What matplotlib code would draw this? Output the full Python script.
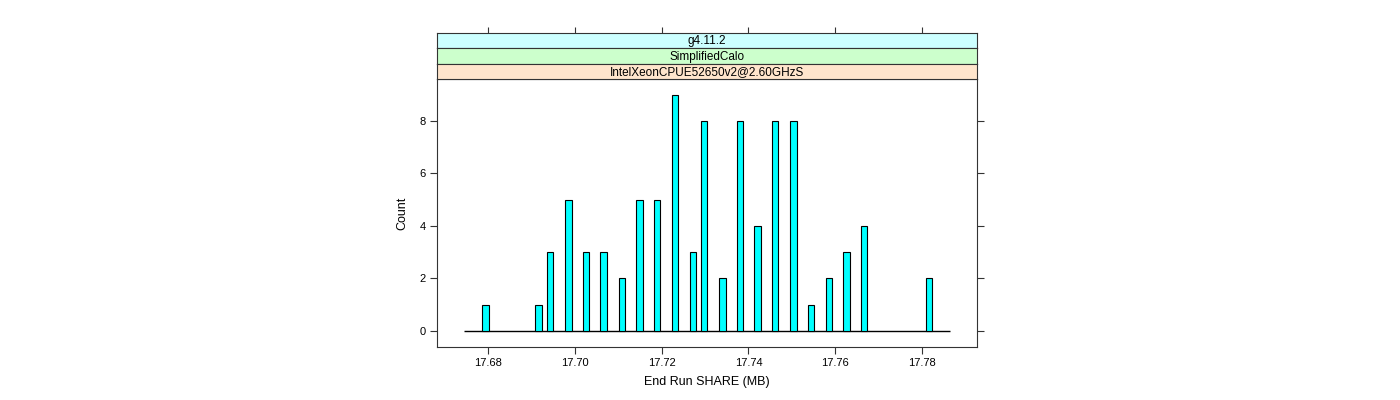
import numpy as np
import matplotlib
matplotlib.use("Agg")
import matplotlib.pyplot as plt

plt.rcParams['font.family'] = ['Liberation Sans', 'DejaVu Sans']

# Bin centres (MB) and counts
binCentres = [17.6794, 17.6916, 17.6943, 17.6985, 17.7026, 17.7066, 17.7108,
              17.7149, 17.7190, 17.7231, 17.7272, 17.7298, 17.7340, 17.7380,
              17.7421, 17.7462, 17.7504, 17.7544, 17.7585, 17.7626, 17.7667,
              17.7817]
counts = [1, 1, 3, 5, 3, 3, 2, 5, 5, 9, 3, 8, 2, 8, 4, 8, 8, 1, 2, 3, 4, 2]
binRange = (17.6745, 17.7865)
binWidth = 0.00145

strips = ["g4.11.2", "SimplifiedCalo", "IntelXeonCPUE52650v2@2.60GHzS"]
stripColours = ["#ccffff", "#ccffcc", "#ffe5cc"]
xTicks = [17.68, 17.70, 17.72, 17.74, 17.76, 17.78]
yTicks = [0, 2, 4, 6, 8]

W, H = 1400, 400
fig = plt.figure(figsize=(14, 4), dpi=100)

def box(x0, y0, x1, y1):
    return [x0 / W, 1 - y1 / H, (x1 - x0) / W, (y1 - y0) / H]

tickCol = "#333333"
ax = fig.add_axes(box(437, 79, 977, 347))
ax.bar(binCentres, counts, width=binWidth, color="#00ffff",
       edgecolor="black", linewidth=0.8, zorder=3)
ax.hlines(0, binRange[0], binRange[1], color="black", linewidth=1, zorder=2)
ax.set_xlim(17.6682, 17.7927)
ax.set_ylim(-0.61, 9.6)
ax.set_xticks(xTicks)
ax.set_xticklabels(["%.2f" % t for t in xTicks])
ax.set_yticks(yTicks)
ax.tick_params(axis="both", direction="out", length=5, width=0.8,
               colors=tickCol, labelcolor="black", labelsize=8, pad=3)
ax.tick_params(axis="y", right=True, labelright=False)
ax.tick_params(axis="x", top=False)
for s in ax.spines.values():
    s.set_color(tickCol)
    s.set_linewidth(0.8)
ax.set_xlabel("End Run SHARE (MB)", fontsize=9, labelpad=6)
ax.set_ylabel("Count", fontsize=9, labelpad=8)

# Strips, outermost level on top
for i, (txt, col) in enumerate(zip(strips, stripColours)):
    y0 = 33 + i * 15.3
    sax = fig.add_axes(box(437, y0, 977, y0 + 15.3), sharex=ax)
    sax.set_facecolor(col)
    sax.set_yticks([])
    sax.text(0.5, 0.45, txt, transform=sax.transAxes, ha="center",
             va="center", fontsize=8.5)
    for s in sax.spines.values():
        s.set_color(tickCol)
        s.set_linewidth(0.8)
    if i == 0:
        sax.tick_params(axis="x", bottom=False, labelbottom=False, top=True,
                        labeltop=False, direction="out", length=4, width=0.8,
                        colors=tickCol)
    else:
        sax.tick_params(axis="x", bottom=False, labelbottom=False)

fig.savefig("out.png", dpi=100)
